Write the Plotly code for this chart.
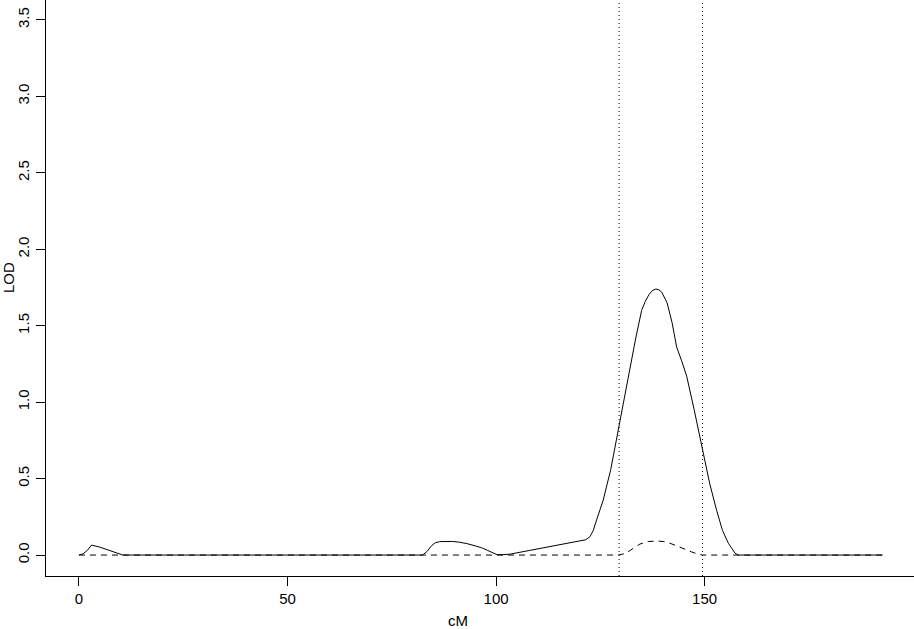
import plotly.graph_objects as go

# solid LOD curve
pos_cm = [0, 1, 2, 3, 5, 7, 9, 10.5, 82.4, 83.5, 84.5, 85.4, 86.5, 87.8, 89.5, 91, 93, 95,
          96.5, 98, 99.3, 100.2, 101.5, 103.4, 108, 113, 118, 121.5, 122.5, 123.3, 124.1,
          125.7, 127.5, 129.3, 130.7, 132.1, 133.5, 134.9, 135.8, 136.7, 137.5, 138.3,
          139.0, 139.7, 141.0, 142.2, 143.3, 144.5, 145.7, 147.5, 149.5, 151.2, 152.9,
          154.3, 155.7, 156.5, 157.3, 158.1, 192.6]
lod = [0.0, 0.008, 0.03, 0.065, 0.052, 0.032, 0.014, 0.0, 0.0, 0.025, 0.06, 0.08, 0.088,
       0.09, 0.089, 0.085, 0.075, 0.06, 0.048, 0.03, 0.012, 0.003, 0.002, 0.006, 0.03,
       0.055, 0.08, 0.10, 0.12, 0.16, 0.23, 0.36, 0.56, 0.82, 1.02, 1.21, 1.42, 1.60, 1.66,
       1.705, 1.73, 1.74, 1.735, 1.72, 1.65, 1.52, 1.36, 1.27, 1.17, 0.95, 0.69, 0.47,
       0.29, 0.16, 0.077, 0.04, 0.012, 0.0, 0.0]

# dashed curve
pos_cm2 = [0, 129.3, 131, 132.8, 134.5, 136.5, 138.5, 140.2, 141.7, 143.5, 145.2, 146.9, 148.3, 149.5, 192.6]
lod2 = [0.0, 0.0, 0.01, 0.04, 0.072, 0.088, 0.092, 0.088, 0.077, 0.058, 0.038, 0.02, 0.007, 0.0, 0.0]

ci_bounds = [129.5, 149.5]

x_ticks = [0, 50, 100, 150]
y_ticks = [0.0, 0.5, 1.0, 1.5, 2.0, 2.5, 3.0, 3.5]
y_ticklabels = ["0.0", "0.5", "1.0", "1.5", "2.0", "2.5", "3.0", "3.5"]

fig = go.Figure()
fig.add_trace(go.Scatter(x=pos_cm2, y=lod2, mode="lines",
                         line=dict(color="black", width=1, dash="6px,5px"),
                         showlegend=False, hoverinfo="skip"))
fig.add_trace(go.Scatter(x=pos_cm, y=lod, mode="lines",
                         line=dict(color="black", width=1),
                         showlegend=False))

for b in ci_bounds:
    fig.add_shape(type="line", x0=b, x1=b, y0=0, y1=1, xref="x", yref="paper",
                  line=dict(color="black", width=1, dash="1px,3px"))

font = "Arial, Liberation Sans, Helvetica, sans-serif"
L, B = 46, 53
plot_h = 629 - B
plot_w = 914 - L
fig.update_layout(
    width=914, height=629,
    margin=dict(l=L, r=0, t=0, b=B, autoexpand=False),
    paper_bgcolor="white", plot_bgcolor="white",
    font=dict(family=font, size=15, color="black"),
    xaxis=dict(range=[-7.9, 200.2], tickvals=x_ticks, ticks="outside", ticklen=9,
               tickwidth=1, tickcolor="black", showline=True, linecolor="black",
               linewidth=1, mirror=False, showgrid=False, zeroline=False,
               automargin=False, title=dict(text=""), tickfont=dict(size=15),
               ticklabelstandoff=0),
    yaxis=dict(range=[-0.137, 3.63], tickvals=y_ticks, ticktext=y_ticklabels,
               ticks="outside", ticklen=9, tickwidth=1, tickcolor="black",
               showline=True, linecolor="black", linewidth=1, mirror=False,
               showgrid=False, zeroline=False, tickangle=-90, automargin=False,
               title=dict(text=""), tickfont=dict(size=15), ticklabelstandoff=1),
    annotations=[
        dict(text="cM", xref="paper", yref="paper", x=(458 - L) / plot_w,
             y=(576 - 620) / plot_h, xanchor="center", yanchor="middle",
             showarrow=False, font=dict(size=15)),
        dict(text="LOD", xref="paper", yref="paper", x=(8 - L) / plot_w,
             y=(576 - 278) / plot_h, xanchor="center", yanchor="middle",
             textangle=-90, showarrow=False, font=dict(size=15)),
    ],
)

fig.write_html("out.html", config={"displayModeBar": False},
               post_script="document.body.style.margin='0';document.body.style.overflow='hidden';")
